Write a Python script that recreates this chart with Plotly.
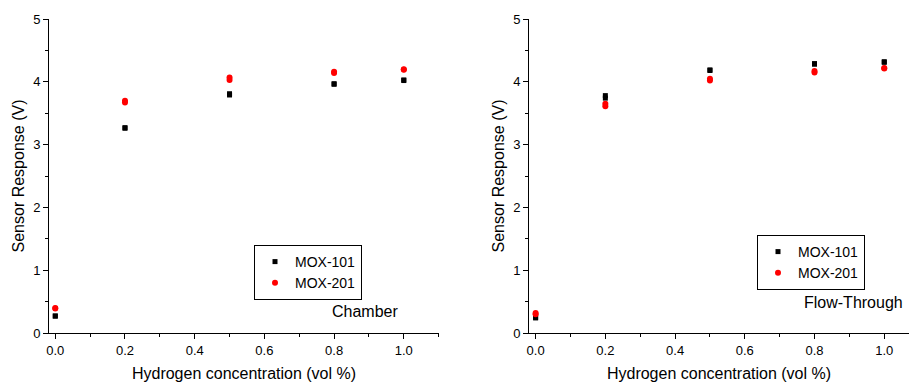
import plotly.graph_objects as go

# Hydrogen concentration (vol %) with replicate measurements
conc = [0.0, 0.0, 0.2, 0.2, 0.5, 0.5, 0.8, 0.8, 1.0, 1.0]

# Chamber configuration
chamber_mox101 = [0.27, 0.27, 3.26, 3.27, 3.79, 3.81, 3.96, 3.97, 4.02, 4.03]
chamber_mox201 = [0.39, 0.40, 3.67, 3.70, 4.03, 4.07, 4.14, 4.16, 4.19, 4.20]

# Flow-through configuration
flow_mox101 = [0.24, 0.25, 3.74, 3.78, 4.18, 4.19, 4.28, 4.29, 4.31, 4.32]
flow_mox201 = [0.30, 0.32, 3.61, 3.65, 4.02, 4.05, 4.15, 4.17, 4.21, 4.22]

series_names = ["MOX-101", "MOX-201"]
panel_labels = ["Chamber", "Flow-Through"]
x_title = "Hydrogen concentration (vol %)"
y_title = "Sensor Response (V)"
x_ticks = [0.0, 0.2, 0.4, 0.6, 0.8, 1.0]
y_ticks = [0, 1, 2, 3, 4, 5]

FONT = "Liberation Sans, Arial, sans-serif"
W, H = 909, 383

fig = go.Figure()

sq = dict(symbol="square", size=5, color="black")
ci = dict(symbol="circle", size=6, color="#ff0000")

fig.add_trace(go.Scatter(x=conc, y=chamber_mox101, mode="markers", marker=sq,
                         name=series_names[0], xaxis="x", yaxis="y", legend="legend"))
fig.add_trace(go.Scatter(x=conc, y=chamber_mox201, mode="markers", marker=ci,
                         name=series_names[1], xaxis="x", yaxis="y", legend="legend"))
fig.add_trace(go.Scatter(x=conc, y=flow_mox101, mode="markers", marker=sq,
                         name=series_names[0], xaxis="x2", yaxis="y2", legend="legend2"))
fig.add_trace(go.Scatter(x=conc, y=flow_mox201, mode="markers", marker=ci,
                         name=series_names[1], xaxis="x2", yaxis="y2", legend="legend2"))

ybot = (H - 333) / H
ytop = (H - 19) / H

def xaxis(domain, rng, anchor):
    return dict(domain=domain, range=rng, anchor=anchor, showline=True, linecolor="black",
                linewidth=1, ticks="outside", ticklen=5, tickcolor="black", tickwidth=1,
                tickvals=x_ticks, ticktext=[f"{v:.1f}" for v in x_ticks],
                minor=dict(ticks="outside", ticklen=3, dtick=0.1, tick0=0, tickcolor="black"),
                showgrid=False, zeroline=False, mirror=False, automargin=False,
                tickfont=dict(family=FONT, size=13, color="black"),
                title=dict(text=x_title, font=dict(family=FONT, size=16, color="black"), standoff=11))

def yaxis(anchor):
    return dict(domain=[ybot, ytop], range=[0, 5], anchor=anchor, showline=True, linecolor="black",
                linewidth=1, ticks="outside", ticklen=5, tickcolor="black", tickwidth=1,
                tickvals=y_ticks,
                minor=dict(ticks="outside", ticklen=3, dtick=0.5, tick0=0, tickcolor="black"),
                showgrid=False, zeroline=False, mirror=False, automargin=False,
                tickfont=dict(family=FONT, size=13, color="black"),
                title=dict(text=y_title, font=dict(family=FONT, size=16, color="black"), standoff=4))

legend_style = dict(bordercolor="black", borderwidth=1, bgcolor="white",
                    font=dict(family=FONT, size=14, color="black"),
                    xanchor="left", yanchor="top", tracegroupgap=0, itemwidth=30)

fig.update_layout(
    width=W, height=H,
    margin=dict(l=0, r=0, t=0, b=0, autoexpand=False),
    paper_bgcolor="white", plot_bgcolor="white",
    font=dict(family=FONT, color="black"),
    xaxis=xaxis([49 / W, 439 / W], [-0.018, 1.101], "y"),
    yaxis=yaxis("x"),
    xaxis2=xaxis([529 / W, 1.0], [-0.019, 1.071], "y2"),
    yaxis2=yaxis("x2"),
    legend=dict(x=254 / W, y=(H - 245) / H, **legend_style),
    legend2=dict(x=757 / W, y=(H - 235) / H, **legend_style),
    annotations=[
        dict(text=panel_labels[0], x=330 / W, y=(H - 311) / H, xref="paper", yref="paper",
             xanchor="left", yanchor="middle", showarrow=False,
             font=dict(family=FONT, size=16, color="black")),
        dict(text=panel_labels[1], x=802 / W, y=(H - 302) / H, xref="paper", yref="paper",
             xanchor="left", yanchor="middle", showarrow=False,
             font=dict(family=FONT, size=16, color="black")),
    ],
)

fig.write_html("out.html", config={"displayModeBar": False},
               post_script="document.body.style.margin='0';document.body.style.overflow='hidden';")
